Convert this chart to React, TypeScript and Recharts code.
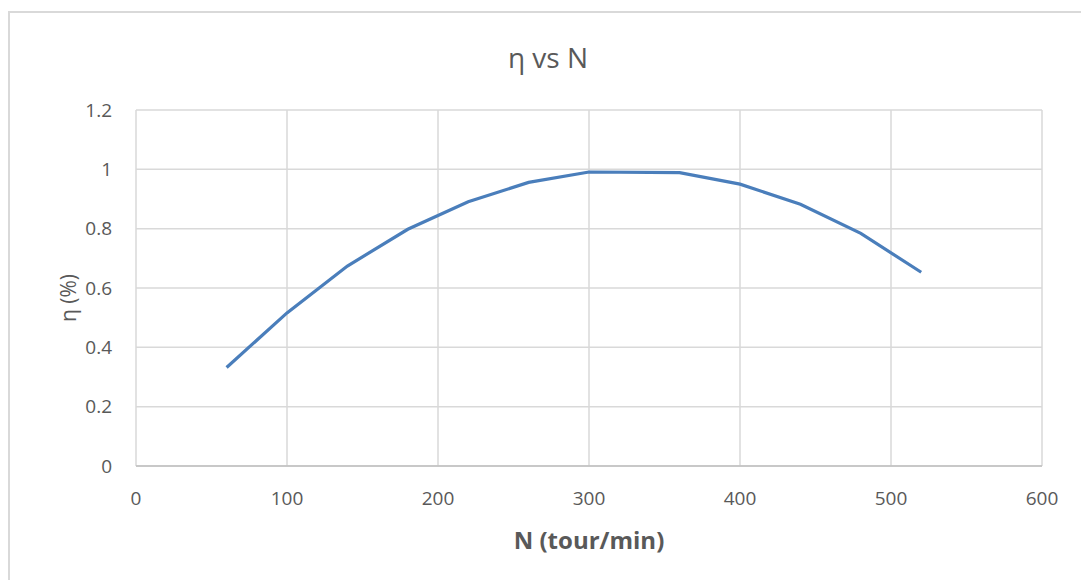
import React from 'react';
import { LineChart, Line, XAxis, YAxis, CartesianGrid } from 'recharts';

const speeds = [60, 100, 140, 180, 220, 260, 300, 360, 400, 440, 480, 520];
const efficiency = [0.332, 0.516, 0.674, 0.798, 0.891, 0.956, 0.991, 0.989, 0.95, 0.882, 0.784, 0.653];
const xTicks = [0, 100, 200, 300, 400, 500, 600];
const yTicks = [0, 0.2, 0.4, 0.6, 0.8, 1, 1.2];
const title = 'η vs N';
const xTitle = 'N (tour/min)';
const yTitle = 'η (%)';

const data = speeds.map((n, i) => ({ n, eta: efficiency[i] }));

const FONT = '"Open Sans", "Noto Sans", sans-serif';
const TEXT = '#595959';

export default function App() {
  return (
    <div style={{ position: 'absolute', left: 0, top: 0, width: 1081, height: 580, overflow: 'hidden', background: '#fff', fontFamily: FONT }}>
      <div style={{ position: 'absolute', left: 8, top: 11, width: 1073, height: 569, borderTop: '2px solid #d9d9d9', borderLeft: '2px solid #d9d9d9', boxSizing: 'border-box' }} />
      <div style={{ position: 'absolute', left: 0, top: 0 }}>
        <LineChart width={1081} height={580} data={data} margin={{ top: 110, right: 39, bottom: 84, left: 76 }}>
          <CartesianGrid stroke="#d9d9d9" strokeWidth={1.5} />
          <XAxis
            dataKey="n"
            type="number"
            domain={[0, 600]}
            ticks={xTicks}
            height={30}
            tickLine={false}
            tickSize={0}
            tickMargin={26}
            axisLine={{ stroke: '#bfbfbf', strokeWidth: 1.5 }}
            tick={{ fill: TEXT, fontSize: 19, fontFamily: FONT }}
            interval={0}
          />
          <YAxis
            type="number"
            domain={[0, 1.2]}
            ticks={yTicks}
            width={60}
            tickLine={false}
            tickSize={0}
            tickMargin={24}
            axisLine={false}
            tick={{ fill: TEXT, fontSize: 19, fontFamily: FONT }}
            tickFormatter={(v: number) => String(Math.round(v * 10) / 10)}
            interval={0}
          />
          <Line
            type="linear"
            dataKey="eta"
            stroke="#4a7ebb"
            strokeWidth={3.2}
            dot={false}
            isAnimationActive={false}
          />
        </LineChart>
      </div>
      <div style={{ position: 'absolute', left: 448, width: 200, top: 39, textAlign: 'center', fontSize: 28, color: TEXT, lineHeight: '36px' }}>{title}</div>
      <div style={{ position: 'absolute', left: 489, width: 200, top: 524, textAlign: 'center', fontSize: 24, fontWeight: 'bold', color: TEXT, lineHeight: '32px' }}>{xTitle}</div>
      <div style={{ position: 'absolute', left: 18, width: 100, top: 283, height: 30, textAlign: 'center', fontSize: 21, color: TEXT, lineHeight: '30px', transform: 'rotate(-90deg)' }}>{yTitle}</div>
    </div>
  );
}
